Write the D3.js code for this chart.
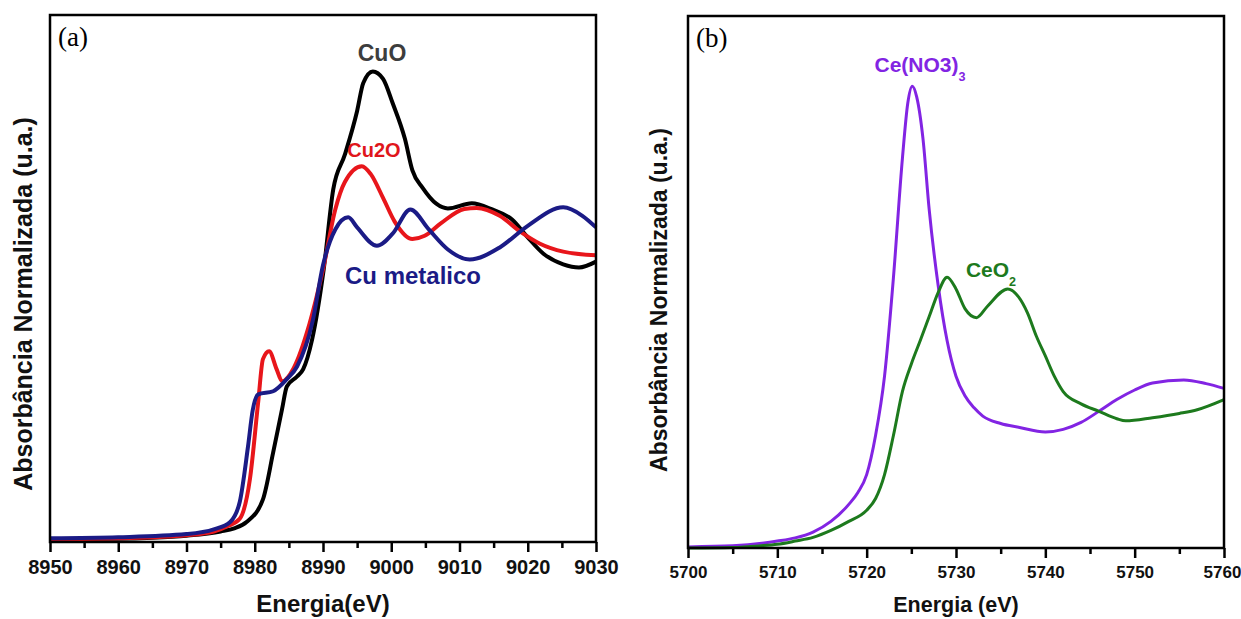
<!DOCTYPE html>
<html>
<head>
<meta charset="utf-8">
<script src="https://cdn.jsdelivr.net/npm/d3@7"></script>
<style>
  body { margin: 0; background: #fff; }
  svg { display: block; font-family: Arial, "Liberation Sans", sans-serif; }
</style>
</head>
<body>
<svg width="1241" height="619"></svg>
<script>
// panel (a) - Cu K edge
const cuTicks = [8950, 8960, 8970, 8980, 8990, 9000, 9010, 9020, 9030];
const cuMinor = [8955, 8965, 8975, 8985, 8995, 9005, 9015, 9025];

const cuoE = [8950, 8960, 8965, 8970, 8975, 8977, 8978.8, 8981.2, 8982.7, 8984, 8984.7, 8986.2, 8987.1, 8988.4,
  8990.1, 8991.5, 8993.2, 8995, 8995.9, 8997.3, 8998.8, 9000.2, 9002, 9003.1, 9004.6, 9006.6, 9008.3,
  9011.8, 9014.8, 9017.7, 9020, 9022.3, 9025.2, 9027.5, 9030];
const cuoV = [0.005, 0.006, 0.008, 0.012, 0.02, 0.026, 0.038, 0.081, 0.17, 0.252, 0.295, 0.314, 0.328, 0.384,
  0.517, 0.669, 0.735, 0.818, 0.871, 0.893, 0.879, 0.833, 0.765, 0.705, 0.672, 0.642, 0.633,
  0.643, 0.631, 0.612, 0.578, 0.547, 0.527, 0.521, 0.532];

const cu2oE = [8950, 8960, 8970, 8974, 8976, 8977.8, 8979.3, 8980.5, 8981.2, 8982.1, 8983.2, 8984, 8985.7, 8988,
  8990, 8991.8, 8993.2, 8995.7, 8997, 8998.8, 9000.5, 9003.1, 9004.9, 9007.2, 9010.7, 9012.5, 9015.9,
  9018.9, 9021.8, 9025.2, 9030];
const cu2oV = [0.005, 0.007, 0.013, 0.02, 0.03, 0.044, 0.12, 0.265, 0.347, 0.362, 0.328, 0.305, 0.33, 0.413,
  0.517, 0.631, 0.683, 0.713, 0.698, 0.653, 0.608, 0.575, 0.581, 0.604, 0.632, 0.634, 0.619,
  0.589, 0.566, 0.551, 0.544];

const cuMetE = [8950, 8960, 8970, 8974, 8976.4, 8977.8, 8979, 8979.7, 8980.5, 8982.7, 8984.7, 8986.2, 8988.5,
  8990, 8991.8, 8993.7, 8995, 8997.9, 9000.2, 9002.8, 9005.5, 9008.3, 9011.5, 9015.9, 9020, 9025.2, 9028, 9030];
const cuMetV = [0.007, 0.009, 0.015, 0.024, 0.038, 0.076, 0.18, 0.25, 0.28, 0.286, 0.309, 0.333, 0.42,
  0.525, 0.593, 0.616, 0.597, 0.562, 0.585, 0.631, 0.593, 0.555, 0.536, 0.559, 0.6, 0.635, 0.619, 0.597];

// panel (b) - Ce L3 edge
const ceTicks = [5700, 5710, 5720, 5730, 5740, 5750, 5760];
const ceMinor = [5705, 5715, 5725, 5735, 5745, 5755];

const ceNitE = [5700, 5705, 5710, 5712, 5714, 5716, 5718, 5719, 5720, 5721, 5722, 5723, 5724, 5724.6, 5725.1,
  5725.6, 5726.3, 5727, 5728, 5729, 5730, 5731, 5732, 5733, 5735, 5737, 5740, 5742, 5744, 5746, 5748,
  5750, 5752, 5755.5, 5758, 5760];
const ceNitV = [0.002, 0.004, 0.013, 0.019, 0.03, 0.05, 0.082, 0.104, 0.138, 0.212, 0.323, 0.509, 0.732, 0.836, 0.868,
  0.848, 0.77, 0.636, 0.494, 0.39, 0.323, 0.286, 0.264, 0.248, 0.234, 0.227, 0.218, 0.223, 0.236, 0.257, 0.279,
  0.297, 0.31, 0.316, 0.309, 0.3];

const ceO2E = [5700, 5705, 5708, 5710, 5712, 5714, 5716, 5718, 5720, 5721, 5722, 5723, 5724, 5725, 5726, 5727,
  5728, 5729, 5730, 5731, 5732.3, 5733.5, 5735.8, 5737, 5738, 5739, 5740, 5741, 5742, 5744, 5746, 5748,
  5749, 5752, 5755, 5757, 5760];
const ceO2V = [0, 0.001, 0.004, 0.007, 0.013, 0.02, 0.033, 0.05, 0.071, 0.093, 0.138, 0.212, 0.294, 0.346, 0.39, 0.435,
  0.48, 0.509, 0.487, 0.45, 0.433, 0.454, 0.487, 0.472, 0.442, 0.398, 0.361, 0.323, 0.294, 0.271, 0.257, 0.243,
  0.239, 0.245, 0.253, 0.26, 0.279];

const svg = d3.select("svg");
svg.append("rect").attr("width", 1241).attr("height", 619).attr("fill", "#fff");

const zip = (xs, ys) => xs.map((x, i) => [x, ys[i]]);

function drawPanel(p) {
  const x = d3.scaleLinear().domain(p.xDomain).range([p.left, p.right]);
  const y = d3.scaleLinear().domain([0, 1]).range([p.bottom, p.top]);
  const g = svg.append("g");

  const line = d3.line()
    .x(d => x(d[0]))
    .y(d => y(d[1]))
    .curve(d3.curveMonotoneX);

  p.series.forEach(s => {
    g.append("path")
      .datum(zip(s.e, s.v))
      .attr("fill", "none")
      .attr("stroke", s.color)
      .attr("stroke-width", p.lw)
      .attr("stroke-linejoin", "round")
      .attr("d", line);
  });

  // frame
  g.append("rect")
    .attr("x", p.left).attr("y", p.top)
    .attr("width", p.right - p.left).attr("height", p.bottom - p.top)
    .attr("fill", "none").attr("stroke", "#000").attr("stroke-width", 2.5);

  const ax = g.append("g")
    .attr("transform", `translate(0,${p.bottom})`)
    .call(d3.axisBottom(x).tickValues(p.ticks).tickFormat(d3.format("d"))
      .tickSize(10).tickSizeOuter(0).tickPadding(8));
  ax.select(".domain").remove();
  ax.selectAll("line").attr("stroke-width", 2.5);
  ax.selectAll("text").attr("font-size", p.tickFont).attr("font-weight", "bold").attr("fill", "#111")
    .attr("dx", (d, i) => i === p.ticks.length - 1 ? p.lastShift : 0);

  const mx = g.append("g")
    .attr("transform", `translate(0,${p.bottom})`)
    .call(d3.axisBottom(x).tickValues(p.minor).tickSize(6).tickSizeOuter(0).tickFormat(""));
  mx.select(".domain").remove();
  mx.selectAll("line").attr("stroke-width", 2.5);

  g.append("text")
    .attr("x", p.xLabelX).attr("y", p.xLabelY)
    .attr("text-anchor", "middle")
    .attr("font-size", p.labelFont).attr("font-weight", "bold").attr("fill", "#111")
    .text(p.xLabel);

  g.append("text")
    .attr("transform", `translate(${p.yLabelX},${p.yLabelY}) rotate(-90)`)
    .attr("text-anchor", "middle")
    .attr("font-size", p.yLabelFont).attr("font-weight", "bold").attr("fill", "#111")
    .text("Absorbância Normalizada (u.a.)");

  g.append("text")
    .attr("x", p.left + 8).attr("y", p.top + 31)
    .attr("font-family", "'Liberation Serif', 'Times New Roman', serif")
    .attr("font-size", 27)
    .text(p.tag);

  p.notes.forEach(n => {
    const t = g.append("text")
      .attr("x", n.x).attr("y", n.y)
      .attr("text-anchor", "middle")
      .attr("font-size", n.size).attr("font-weight", "bold").attr("fill", n.color)
      .text(n.text);
    if (n.sub) {
      t.append("tspan").attr("font-size", n.size * 0.6).attr("dy", 9).text(n.sub);
    }
  });
}

drawPanel({
  left: 50, right: 596, top: 15, bottom: 542,
  xDomain: [8950, 9030], ticks: cuTicks, minor: cuMinor,
  lw: 4, tickFont: 20, labelFont: 24, yLabelFont: 25, lastShift: 0,
  xLabel: "Energia(eV)", xLabelX: 323, xLabelY: 612,
  yLabelX: 32, yLabelY: 304, tag: "(a)",
  series: [
    { e: cuoE, v: cuoV, color: "#000000" },
    { e: cu2oE, v: cu2oV, color: "#e8161b" },
    { e: cuMetE, v: cuMetV, color: "#1b1b86" }
  ],
  notes: [
    { text: "CuO", x: 382, y: 61, size: 23, color: "#3d3d3d" },
    { text: "Cu2O", x: 374, y: 157, size: 20, color: "#e0161b" },
    { text: "Cu metalico", x: 413, y: 284, size: 24, color: "#1b1b86" }
  ]
});

drawPanel({
  left: 688, right: 1224, top: 16, bottom: 548,
  xDomain: [5700, 5760], ticks: ceTicks, minor: ceMinor,
  lw: 3, tickFont: 17, labelFont: 21.5, yLabelFont: 23, lastShift: -2,
  xLabel: "Energia (eV)", xLabelX: 956, xLabelY: 612,
  yLabelX: 667, yLabelY: 300, tag: "(b)",
  series: [
    { e: ceNitE, v: ceNitV, color: "#8224e3" },
    { e: ceO2E, v: ceO2V, color: "#1d7a1d" }
  ],
  notes: [
    { text: "Ce(NO3)", sub: "3", x: 920, y: 72, size: 21, color: "#8224e3" },
    { text: "CeO", sub: "2", x: 991, y: 277, size: 21, color: "#1d7a1d" }
  ]
});
</script>
</body>
</html>
